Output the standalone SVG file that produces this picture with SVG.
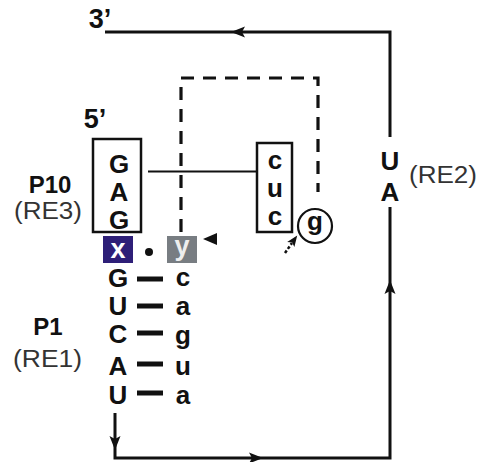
<svg xmlns="http://www.w3.org/2000/svg" width="480" height="462" viewBox="0 0 480 462">
<style>
.b{font-family:"Liberation Sans",Arial,sans-serif;font-weight:bold;font-size:26px;fill:#111;text-anchor:middle}
.r{font-family:"Liberation Sans",Arial,sans-serif;font-size:23px;fill:#333;text-anchor:start}
.box{fill:none;stroke:#111;stroke-width:2.5}
.ln{fill:none;stroke:#111;stroke-width:3}
.dash{fill:none;stroke:#111;stroke-width:3.2;stroke-dasharray:13 9}
.bar{stroke:#111;stroke-width:5}
.ah{fill:#111}
</style>
<defs>
<path id="ah" d="M7,0 L-7,-5.5 L-4,0 L-7,5.5 Z"/>
</defs>
<rect width="480" height="462" fill="#ffffff"/>

<g id="connectors">
<path class="ln" d="M105,32 H390 V137"/>
<path class="ln" d="M390,207 V458 H115 V413"/>
<use href="#ah" class="ah" transform="translate(238,32) rotate(180)"/>
<use href="#ah" class="ah" transform="translate(390,287) rotate(-90)"/>
<use href="#ah" class="ah" transform="translate(256,458)"/>
<use href="#ah" class="ah" transform="translate(115,443) rotate(90)"/>
<path class="dash" d="M181,232 V78 H318 V192"/>
<line x1="148" y1="171.5" x2="257" y2="171.5" stroke="#111" stroke-width="1.8"/>
<line x1="285" y1="253" x2="292" y2="243" stroke="#111" stroke-width="2.5" stroke-dasharray="3 2"/>
<use href="#ah" class="ah" transform="translate(294,240) rotate(-55) scale(0.8)"/>
<polygon class="ah" points="203,239 217,233 217,245"/>
</g>

<g id="label-3prime"><text class="b" x="100" y="28" style="font-size:27px">3’</text></g>
<g id="label-5prime"><text class="b" x="95" y="128" style="font-size:27px">5’</text></g>

<g id="P10-GAG">
<rect class="box" x="93" y="139" width="48" height="93"/>
<text class="b" x="119" y="173">G</text>
<text class="b" x="119" y="201">A</text>
<text class="b" x="119" y="229">G</text>
</g>
<g id="label-P10">
<text class="b" x="50" y="193" style="font-size:24px">P10</text>
<text class="r" x="14" y="219" textLength="68" lengthAdjust="spacingAndGlyphs">(RE3)</text>
</g>

<g id="P10-cuc">
<rect class="box" x="257" y="143" width="35" height="89"/>
<text class="b" x="275" y="169">c</text>
<text class="b" x="275" y="197">u</text>
<text class="b" x="275" y="225">c</text>
</g>

<g id="g-circle">
<circle cx="315" cy="226" r="17" fill="none" stroke="#111" stroke-width="2.2"/>
<text class="b" x="315" y="230">g</text>
</g>

<g id="RE2">
<text class="b" x="390" y="170">U</text>
<text class="b" x="390" y="201">A</text>
<text class="r" x="409" y="183" textLength="68" lengthAdjust="spacingAndGlyphs">(RE2)</text>
</g>

<g id="x-node">
<rect x="103" y="236" width="30" height="27" fill="#2e1f78"/>
<text class="b" x="118" y="258" style="fill:#ffffff;font-size:27px">x</text>
</g>
<g id="wobble-dot"><circle cx="149" cy="252" r="4" fill="#111"/></g>
<g id="y-node">
<rect x="167" y="236" width="30" height="27" fill="#787d82"/>
<text class="b" x="182" y="255" style="fill:#eeeeee;font-size:27px">y</text>
</g>

<g id="P1">
<text class="b" x="118" y="287">G</text>
<text class="b" x="118" y="315">U</text>
<text class="b" x="118" y="343">C</text>
<text class="b" x="118" y="375">A</text>
<text class="b" x="118" y="404">U</text>
<line class="bar" x1="137" y1="279" x2="163" y2="279"/>
<line class="bar" x1="137" y1="306" x2="163" y2="306"/>
<line class="bar" x1="137" y1="333" x2="163" y2="333"/>
<line class="bar" x1="137" y1="364" x2="163" y2="364"/>
<line class="bar" x1="137" y1="393" x2="163" y2="393"/>
<text class="b" x="183" y="286">c</text>
<text class="b" x="183" y="315">a</text>
<text class="b" x="183" y="344">g</text>
<text class="b" x="183" y="375">u</text>
<text class="b" x="183" y="404">a</text>
</g>
<g id="label-P1">
<text class="b" x="48" y="335" style="font-size:24px">P1</text>
<text class="r" x="13" y="367" textLength="69" lengthAdjust="spacingAndGlyphs">(RE1)</text>
</g>
</svg>
